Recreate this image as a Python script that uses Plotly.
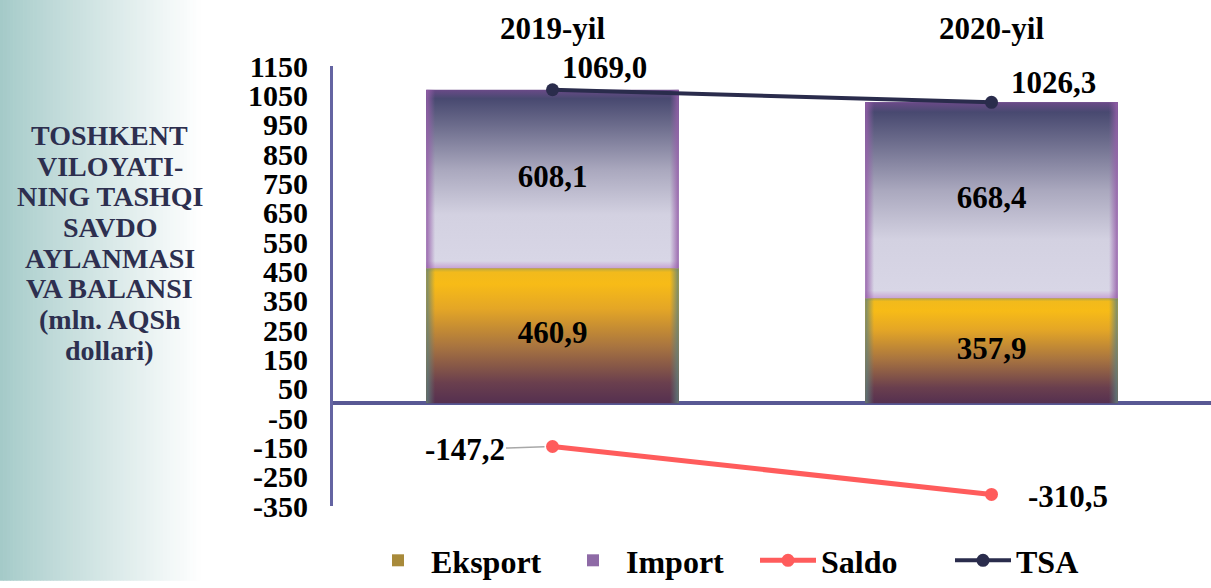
import plotly.graph_objects as go

# ---------------- data ----------------
categories = ["2019-yil", "2020-yil"]
eksport = [460.9, 357.9]
import_ = [608.1, 668.4]
saldo = [-147.2, -310.5]
tsa = [1069.0, 1026.3]
y_ticks = [-350, -250, -150, -50, 50, 150, 250, 350, 450, 550, 650, 750, 850, 950, 1050, 1150]
title_lines = ["TOSHKENT", "VILOYATI-", "NING TASHQI", "SAVDO", "AYLANMASI", "VA BALANSI", "(mln. AQSh", "dollari)"]

def fmt(v):
    return f"{v:.1f}".replace(".", ",")

FONT = "Liberation Serif"
W, H = 1211, 588
L, R, T, B = 333, 0, 66, 72
PW, PH = W - L - R, H - T - B

xpos = list(range(len(categories)))
bw = 0.575

fig = go.Figure()

# base bars (legend + semantics)
fig.add_trace(go.Bar(x=xpos, y=eksport, width=bw, name="Eksport",
                     marker=dict(color="#a88a3a", line=dict(width=0)), hoverinfo="skip"))
fig.add_trace(go.Bar(x=xpos, y=import_, width=bw, name="Import",
                     marker=dict(color="#8e6aa6", line=dict(width=0)), hoverinfo="skip"))

exp_scale = [[0, "#553050"], [0.15, "#6a3f4e"], [0.42, "#a87440"], [0.7, "#e4a626"],
             [0.88, "#f7bb17"], [0.97, "#f2ba1c"], [1, "#b8a840"]]
imp_scale = [[0, "#c8a4d4"], [0.04, "#d8d6e6"], [0.3, "#d3d1e1"], [0.55, "#aaa8be"],
             [0.8, "#6c6c8c"], [0.95, "#484970"], [1, "#6a4a88"]]

# gradient overlays of the bars, built from the same data
edge = 0.02
for i in xpos:
    segs = [(0, eksport[i], exp_scale, "rgba(95,130,125,0.85)"),
            (eksport[i], eksport[i] + import_[i], imp_scale, "rgba(150,95,170,0.9)")]
    for y0, y1, cs, ec in segs:
        x0, x1 = i - bw / 2, i + bw / 2
        fig.add_trace(go.Scatter(
            x=[x0, x1, x1, x0, x0], y=[y0, y0, y1, y1, y0], mode="lines",
            fill="toself", line=dict(width=0), fillgradient=dict(type="vertical", colorscale=cs),
            showlegend=False, hoverinfo="skip"))
        transparent = ec.rsplit(",", 1)[0] + ",0)"
        fig.add_trace(go.Scatter(
            x=[x0, x0 + edge, x0 + edge, x0, x0], y=[y0, y0, y1, y1, y0], mode="lines",
            fill="toself", line=dict(width=0),
            fillgradient=dict(type="horizontal", colorscale=[[0, ec], [1, transparent]]),
            showlegend=False, hoverinfo="skip"))
        fig.add_trace(go.Scatter(
            x=[x1 - edge, x1, x1, x1 - edge, x1 - edge], y=[y0, y0, y1, y1, y0], mode="lines",
            fill="toself", line=dict(width=0),
            fillgradient=dict(type="horizontal", colorscale=[[0, transparent], [1, ec]]),
            showlegend=False, hoverinfo="skip"))

# bar value labels
fig.add_trace(go.Scatter(
    x=xpos + xpos,
    y=[e / 2 for e in eksport] + [e + m / 2 for e, m in zip(eksport, import_)],
    text=[fmt(v) for v in eksport] + [fmt(v) for v in import_],
    mode="text", textfont=dict(family=FONT, size=31, color="black", weight=700),
    showlegend=False, hoverinfo="skip"))

# lines
fig.add_trace(go.Scatter(x=xpos, y=saldo, name="Saldo", mode="lines+markers",
                         line=dict(color="#ff5c5c", width=5), marker=dict(size=13, color="#ff5c5c")))
fig.add_trace(go.Scatter(x=xpos, y=tsa, name="TSA", mode="lines+markers",
                         line=dict(color="#2a2c4c", width=4), marker=dict(size=13, color="#2a2c4c")))

ann_font = dict(family=FONT, size=31, color="black", weight=700)
annotations = [
    dict(x=xpos[0], y=tsa[0], text=fmt(tsa[0]), showarrow=False, xshift=52, yshift=22, font=ann_font),
    dict(x=xpos[1], y=tsa[1], text=fmt(tsa[1]), showarrow=False, xshift=62, yshift=20, font=ann_font),
    dict(x=xpos[0], y=saldo[0], text=fmt(saldo[0]), showarrow=True, ax=-88, ay=3,
         arrowhead=0, arrowwidth=1.5, arrowcolor="#a8a8a8", standoff=8, font=ann_font),
    dict(x=xpos[1], y=saldo[1], text=fmt(saldo[1]), showarrow=False, xshift=76, yshift=-2, font=ann_font),
]
# left title, one annotation per line
for k, line in enumerate(title_lines):
    ypx = 137 + k * 31.4
    annotations.append(dict(xref="paper", yref="paper", x=(110 - L) / PW, y=(H - B - ypx) / PH,
                            text=line, showarrow=False, xanchor="center", yanchor="middle",
                            font=dict(family=FONT, size=28, color="#2d2f4f", weight=700)))

# background gradient at the left (strips)
shapes = []
N = 60
x_end = 200
c0 = (164, 202, 200)
for k in range(N):
    t = k / N
    col = tuple(round(c0[j] + (255 - c0[j]) * min(1, t) ** 0.9) for j in range(3))
    xa = k * x_end / N
    xb = (k + 1) * x_end / N + 0.6
    shapes.append(dict(type="rect", xref="paper", yref="paper", layer="below",
                       x0=(xa - L) / PW, x1=(xb - L) / PW, y0=-B / PH - 0.01, y1=(H - B) / PH + 0.01,
                       fillcolor=f"rgb{col}", line=dict(width=0)))

fig.update_layout(
    width=W, height=H, autosize=False,
    margin=dict(l=L, r=R, t=T, b=B, pad=0),
    paper_bgcolor="white", plot_bgcolor="rgba(0,0,0,0)",
    barmode="stack", bargap=0,
    showlegend=True,
    legend=dict(orientation="h", traceorder="normal", x=(755 - L) / PW, y=-(572 - (H - B)) / PH,
                xanchor="center", yanchor="middle",
                font=dict(family=FONT, size=32, color="black", weight=700),
                itemwidth=56, entrywidth=124, entrywidthmode="pixels",
                bgcolor="rgba(0,0,0,0)"),
    xaxis=dict(range=[-0.5, 1.5], side="top", tickvals=xpos, ticktext=categories,
               showgrid=False, zeroline=False, showline=False, ticks="",
               tickfont=dict(family=FONT, size=31, color="black", weight=700),
               ticklabelstandoff=20, fixedrange=True),
    yaxis=dict(range=[-350, 1150], tickvals=y_ticks, ticktext=[str(v) for v in y_ticks],
               showgrid=False, zeroline=True, zerolinecolor="#585894", zerolinewidth=4,
               showline=True, linecolor="#6464a2", linewidth=3, ticks="",
               tickfont=dict(family=FONT, size=30, color="black", weight=700),
               ticklabelstandoff=16, fixedrange=True),
    annotations=annotations,
    shapes=shapes,
)

post = ("document.documentElement.style.overflow='hidden';"
        "document.body.style.margin='0';document.body.style.overflow='hidden';")
fig.write_html("out.html", config={"displayModeBar": False, "responsive": False},
               post_script=post)
